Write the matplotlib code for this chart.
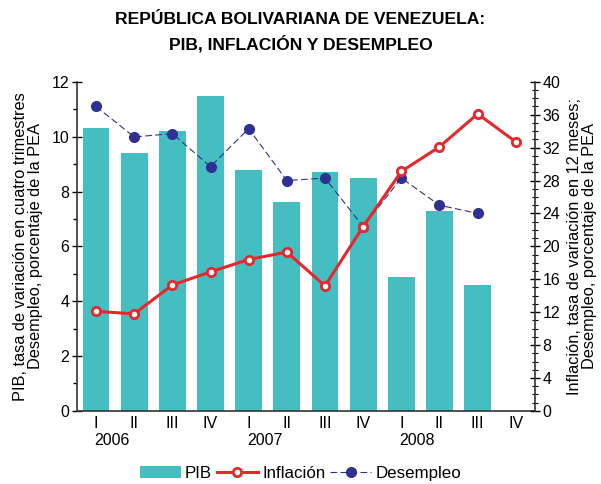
import matplotlib
matplotlib.use("Agg")
import matplotlib.pyplot as plt
from matplotlib.ticker import MultipleLocator
import numpy as np

plt.rcParams['font.family'] = ['Liberation Sans', 'DejaVu Sans']

quarters = ["I", "II", "III", "IV", "I", "II", "III", "IV", "I", "II", "III", "IV"]
years = ["2006", "2007", "2008"]
pib = [10.3, 9.4, 10.2, 11.5, 8.8, 7.6, 8.7, 8.5, 4.9, 7.3, 4.6, None]
inflacion = [12.1, 11.8, 15.3, 16.9, 18.4, 19.3, 15.2, 22.4, 29.1, 32.1, 36.1, 32.7]
desempleo = [37.0, 33.3, 33.7, 29.7, 34.3, 28.0, 28.3, 22.4, 28.3, 25.0, 24.0, None]

bar_color = "#45BEC2"
red = "#E8262B"
navy = "#2E3192"

fig = plt.figure(figsize=(6.01, 4.84), dpi=100)
ax = fig.add_axes([0.128, 0.151, 0.762, 0.680])
ax2 = ax.twinx()

x = np.arange(len(quarters))
pib_arr = np.array([np.nan if v is None else v for v in pib])
des_arr = np.array([np.nan if v is None else v for v in desempleo])

bars = ax.bar(x, np.nan_to_num(pib_arr), width=0.7, color=bar_color, label="PIB", zorder=2)
l1, = ax2.plot(x, inflacion, color=red, lw=2.2, marker='o', ms=6, mfc='white', mec=red, mew=2, label="Inflación", zorder=4)
l2, = ax2.plot(x, des_arr, color=navy, lw=0.8, ls=(0, (6, 3)), marker='o', ms=7, mfc=navy, mec=navy, label="Desempleo", zorder=3)

ax.set_xlim(-0.5, 11.5)
ax.set_ylim(0, 12)
ax2.set_ylim(0, 40)
ax.yaxis.set_major_locator(MultipleLocator(2))
ax.yaxis.set_minor_locator(MultipleLocator(1))
ax2.yaxis.set_major_locator(MultipleLocator(4))
ax2.yaxis.set_minor_locator(MultipleLocator(1))

for a in (ax, ax2):
    a.spines['top'].set_visible(False)
    for s in a.spines.values():
        s.set_linewidth(1.2)
        s.set_color('#333333')
ax.spines['right'].set_visible(False)
ax2.spines['left'].set_visible(False)
ax2.spines['bottom'].set_visible(False)

ax.tick_params(axis='y', which='major', direction='inout', length=7, width=1, labelsize=11.5, pad=2)
ax.tick_params(axis='y', which='minor', direction='out', length=3, width=1)
ax2.tick_params(axis='y', which='major', direction='inout', length=7, width=1, labelsize=11.5, pad=2)
ax2.tick_params(axis='y', which='minor', direction='inout', length=4, width=0.8)

ax.set_xticks(x)
ax.set_xticklabels(quarters, fontsize=11.5)
ax.tick_params(axis='x', length=0, pad=4)

for i, yr in enumerate(years):
    ax.text(i * 4 - 0.05, -0.068, yr, transform=ax.get_xaxis_transform(), ha='left', va='top', fontsize=11.5)

ax.set_ylabel("PIB, tasa de variación en cuatro trimestres\nDesempleo, porcentaje de la PEA", fontsize=11.8, labelpad=6, linespacing=1.0)
ax2.set_ylabel("Inflación, tasa de variación en 12 meses;\nDesempleo, porcentaje de la PEA", fontsize=11.8, labelpad=5, linespacing=1.0, rotation=90)

fig.text(0.5, 0.975, "REPÚBLICA BOLIVARIANA DE VENEZUELA:\nPIB, INFLACIÓN Y DESEMPLEO", ha='center', va='top',
         fontsize=12.6, fontweight='bold', linespacing=1.55)

fig.legend(handles=[bars, l1, l2], loc='lower center', bbox_to_anchor=(0.5, -0.025), ncol=3, frameon=False,
           fontsize=12.2, handlelength=2.4, handletextpad=0.25, columnspacing=0.3)

fig.savefig("out.png", dpi=100)
